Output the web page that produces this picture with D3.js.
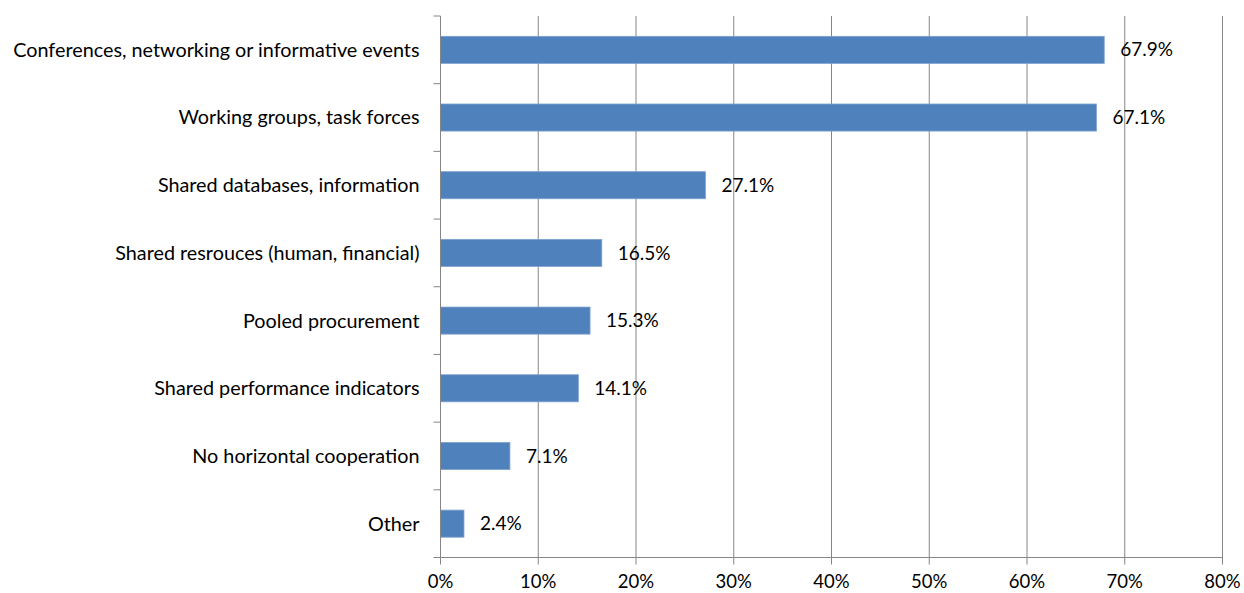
<!DOCTYPE html>
<html>
<head>
<meta charset="utf-8">
<script src="https://cdn.jsdelivr.net/npm/d3@7"></script>
<style>
  body { margin: 0; background: #fff; }
  text { font-family: Lato, "Open Sans", sans-serif; fill: #000; }
</style>
</head>
<body>
<script>
  const categories = [
    "Conferences, networking or informative events",
    "Working groups, task forces",
    "Shared databases, information",
    "Shared resrouces (human, financial)",
    "Pooled procurement",
    "Shared performance indicators",
    "No horizontal cooperation",
    "Other"
  ];
  const values = [67.9, 67.1, 27.1, 16.5, 15.3, 14.1, 7.1, 2.4];
  const xTicks = [0, 10, 20, 30, 40, 50, 60, 70, 80];

  const w = 1244, h = 593;
  const plotLeft = 440.5, plotRight = 1222.5, plotTop = 16, plotBottom = 557.5;

  const svg = d3.select("body").append("svg")
    .attr("width", w).attr("height", h);

  const xScale = d3.scaleLinear().domain([0, 80]).range([plotLeft, plotRight]);
  const yScale = d3.scaleBand().domain(categories).range([plotTop, plotBottom])
    .paddingInner(0.6).paddingOuter(0.3);

  // vertical gridlines
  svg.append("g").selectAll("line")
    .data(xTicks.slice(1))
    .enter().append("line")
    .attr("x1", d => xScale(d)).attr("x2", d => xScale(d))
    .attr("y1", plotTop).attr("y2", plotBottom)
    .attr("stroke", "#868686").attr("stroke-width", 1);

  // bars
  svg.append("g").selectAll("rect")
    .data(values)
    .enter().append("rect")
    .attr("x", xScale(0))
    .attr("y", (d, i) => yScale(categories[i]))
    .attr("width", d => xScale(d) - xScale(0))
    .attr("height", yScale.bandwidth())
    .attr("fill", "#4F81BD")
    .attr("stroke", "#7FA1CF")
    .attr("stroke-width", 0.8);

  // value labels
  svg.append("g").selectAll("text")
    .data(values)
    .enter().append("text")
    .attr("x", d => xScale(d) + 16)
    .attr("y", (d, i) => yScale(categories[i]) + yScale.bandwidth() / 2)
    .attr("dy", "0.35em")
    .attr("font-size", 19)
    .text(d => d.toFixed(1) + "%");

  // y axis line & ticks at category boundaries
  const step = (plotBottom - plotTop) / categories.length;
  svg.append("line")
    .attr("x1", plotLeft).attr("x2", plotLeft).attr("y1", plotTop).attr("y2", plotBottom)
    .attr("stroke", "#868686");
  svg.append("g").selectAll("line")
    .data(d3.range(categories.length + 1))
    .enter().append("line")
    .attr("x1", plotLeft - 7).attr("x2", plotLeft)
    .attr("y1", i => plotTop + i * step).attr("y2", i => plotTop + i * step)
    .attr("stroke", "#868686");

  // category labels
  svg.append("g").selectAll("text")
    .data(categories)
    .enter().append("text")
    .attr("x", plotLeft - 21)
    .attr("y", d => yScale(d) + yScale.bandwidth() / 2)
    .attr("dy", "0.35em")
    .attr("text-anchor", "end")
    .attr("font-size", 19.8)
    .text(d => d);

  // x axis
  svg.append("line")
    .attr("x1", plotLeft).attr("x2", plotRight).attr("y1", plotBottom).attr("y2", plotBottom)
    .attr("stroke", "#868686");
  svg.append("g").selectAll("line")
    .data(xTicks)
    .enter().append("line")
    .attr("x1", d => xScale(d)).attr("x2", d => xScale(d))
    .attr("y1", plotBottom).attr("y2", plotBottom + 7)
    .attr("stroke", "#868686");
  svg.append("g").selectAll("text")
    .data(xTicks)
    .enter().append("text")
    .attr("x", d => xScale(d))
    .attr("y", 582)
    .attr("dy", "0.35em")
    .attr("text-anchor", "middle")
    .attr("font-size", 18.5)
    .text(d => d + "%");
</script>
</body>
</html>
